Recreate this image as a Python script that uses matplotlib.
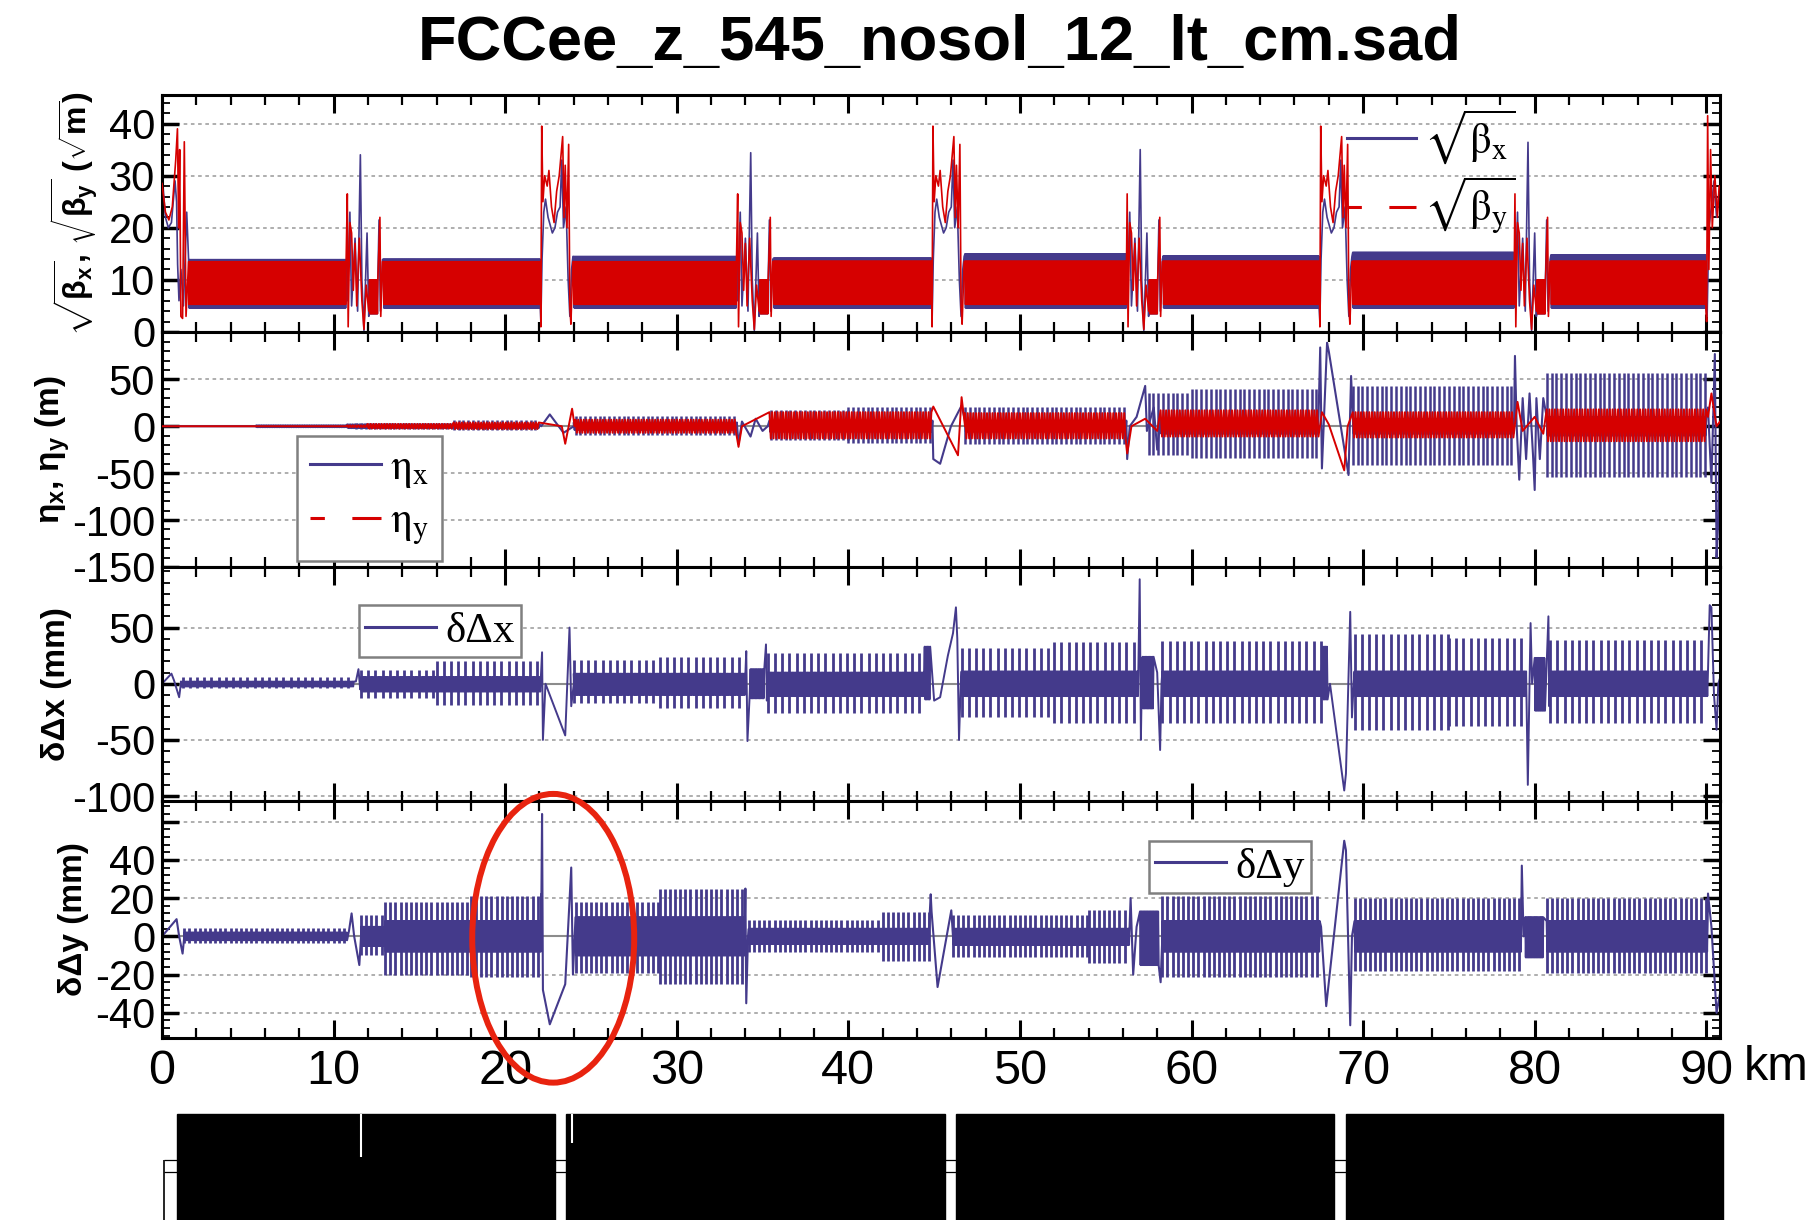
import numpy as np
import matplotlib
matplotlib.use("Agg")
import matplotlib.pyplot as plt
from matplotlib import font_manager
from matplotlib.lines import Line2D
from matplotlib.patches import Ellipse, Rectangle
from matplotlib.font_manager import FontProperties
from matplotlib.ticker import MultipleLocator, FixedLocator, FuncFormatter

# ---------------- data (km along the ring) ----------------
title = "FCCee_z_545_nosol_12_lt_cm.sad"

# panel 1 : sqrt(beta)
arc_x0 = [1.55, 12.9, 24.0, 35.65, 46.8, 58.35, 69.4, 80.95]
arc_x1 = [10.75, 22.05, 33.5, 44.85, 56.2, 67.45, 78.8, 90.0]
bx_arc_hi = [13.9, 14.0, 14.5, 14.2, 15.0, 14.6, 15.3, 14.8]
bx_arc_lo = [4.6, 4.6, 4.6, 4.6, 4.6, 4.6, 4.6, 4.6]
by_arc_hi = [13.5, 13.5, 13.5, 13.6, 13.6, 13.6, 13.6, 13.6]
by_arc_lo = [5.3, 5.3, 5.3, 5.3, 5.3, 5.3, 5.3, 5.3]

ir_a_starts = [10.75, 33.5, 56.2, 78.8]
ir_a_band = (1.35, 1.85, 10.0, 3.5)
bx_ir_a_dx = [0.05, 0.2, 0.3, 0.5, 0.65, 0.81, 0.9, 1.02, 1.2, 1.3, 1.9, 1.98, 2.1]
bx_ir_a_y = [6, 23, 5, 18, 4, 34, 10, 0.3, 19, 3, 21.5, 4, 13.9]
bx_peak_a = [34.0, 34.4, 35.0, 36.4]
by_ir_a_dx = [0.05, 0.1, 0.2, 0.3, 0.4, 0.5, 0.6, 0.75, 0.9, 1.02, 1.15, 1.3, 1.95, 2.0, 2.1]
by_ir_a_y = [26.5, 1, 21, 19, 8, 17, 5, 18, 6, 0.5, 9, 4, 22, 3, 13.5]

ir_b_starts = [22.05, 44.85, 67.45]
bx_ir_b_dx = [0.03, 0.1, 0.2, 0.3, 0.45, 0.7, 0.85, 1.0, 1.15, 1.25, 1.35, 1.5, 1.62, 1.72, 1.82, 1.9]
bx_ir_b_y = [2, 14, 23, 25.5, 22, 19, 20, 23, 24, 33, 20, 24, 10, 3, 12, 14.5]
by_ir_b_dx = [0.0, 0.03, 0.08, 0.15, 0.25, 0.4, 0.5, 0.65, 0.8, 0.95, 1.1, 1.3, 1.38,
              1.45, 1.55, 1.65, 1.72, 1.78, 1.9]
by_ir_b_y = [13.5, 1, 39.5, 25, 30, 28, 31, 24, 21, 27, 30, 37.5, 22, 32, 20, 36, 5, 1.5, 13.5]

bx_end_x = [0.0, 0.2, 0.37, 0.55, 0.76, 0.85, 0.91, 0.99, 1.1, 1.25, 1.44, 1.55,
            90.05, 90.15, 90.3, 90.45, 90.6, 90.75]
bx_end_y = [30.5, 22, 20, 21, 29, 25, 13, 6, 12, 5, 23, 14, 3, 20, 24, 29, 22, 27]
by_end_x = [0.0, 0.2, 0.4, 0.6, 0.8, 0.9, 0.97, 1.03, 1.1, 1.2, 1.3, 1.4, 1.55,
            90.02, 90.08, 90.15, 90.25, 90.35, 90.5, 90.65, 90.75]
by_end_y = [28.5, 23, 21.5, 24, 33, 39, 20, 35, 3, 2.6, 36.5, 3, 13.5,
            2, 41.5, 12, 35, 20, 30, 22, 28]

# panel 2 : dispersion
ex_core = [(0.0, 5.5, 0, 0), (5.5, 10.8, 1, -1), (10.8, 22.0, 2, -2), (24.0, 33.5, 4, -4),
           (35.4, 44.9, 6, -6), (46.8, 56.2, 6, -6), (58.2, 67.4, 8, -8),
           (69.4, 78.8, 8, -8), (80.7, 90.0, 10, -10)]
ex_teeth = [(5.5, 10.8, 1.5, -1.0), (11.3, 17.0, 3.5, -3.0), (17.0, 22.0, 7.0, -4.5),
            (24.1, 33.5, 10.5, -9.0), (35.5, 40.0, 17.0, -15.0), (40.0, 44.9, 21.0, -18.0),
            (46.8, 56.2, 21.0, -18.5), (57.5, 60.0, 35.5, -31.0), (60.0, 67.4, 40.0, -34.0),
            (69.4, 78.8, 43.0, -41.0), (80.7, 90.0, 57.0, -54.0)]
ex_ir_x = [22.1, 22.6, 23.4, 24.0,
           33.6, 33.8, 34.3, 34.6, 35.0, 35.3,
           44.95, 45.35, 45.98, 46.6,
           56.25, 56.4, 56.8, 57.3, 57.4, 57.8, 58.0,
           67.5, 67.6, 67.9, 68.0, 69.15, 69.3,
           78.85, 78.95, 79.1, 79.3, 79.5, 79.7, 79.9, 80.0, 80.1, 80.3, 80.5,
           90.1, 90.3, 90.5, 90.6, 90.7, 90.8]
ex_ir_y = [0, 12.6, -7, 0,
           -19, 5, -11, 8, -5, 0,
           -35, -40, 0, 22,
           -35, 0, 10, 43, -5, 20, -25,
           84, -45, 89, 80, -52, 53.6,
           75, 0, -57, 30, -35, 35, -30, -68, 30, -35, 30,
           20, -60, 77, -140, -100, 10]
ey_bands = [(0.0, 10.8, 0, 0), (10.8, 12.0, 1.0, -1.0), (12.0, 17.0, 2.5, -2.5),
            (17.0, 22.0, 4.0, -3.0), (24.1, 33.5, 7.0, -7.0), (35.4, 44.9, 15.0, -13.0),
            (46.8, 56.2, 14.0, -13.0), (58.2, 67.4, 17.0, -11.0), (69.4, 78.8, 15.0, -12.0),
            (80.7, 90.0, 18.0, -16.0)]
ey_ir_x = [23.3, 23.5, 23.9, 24.05, 33.6, 33.8, 44.95, 46.39, 46.6, 46.8,
           56.25, 56.5, 57.3, 58.0, 67.6, 68.0, 68.9, 69.1, 79.0, 79.3, 80.0, 80.5,
           90.1, 90.3, 90.6, 90.8]
ey_ir_y = [0, -18.7, 18.7, 0, -22, 0, 21, -31, 31, 0,
           -29, 0, 8, -5, 15, 2, -47, 0, 26, -5, 10, -8,
           10, 35, 0, 5]

# panel 3 : delta Delta x
dx_core = [(1.1, 11.2, 2.0, -2.5), (11.6, 22.1, 6.0, -7.0), (24.0, 34.0, 9.0, -10.0),
           (34.3, 35.1, 13.0, -13.0), (35.3, 44.4, 10.0, -11.0), (44.45, 44.8, 33.0, -14.0),
           (46.6, 56.9, 11.0, -11.0), (57.15, 57.8, 24.0, -22.0), (58.3, 67.6, 11.0, -11.0),
           (67.65, 67.95, 33.0, -14.0), (69.5, 79.5, 11.0, -11.0), (80.0, 80.6, 23.0, -24.0),
           (80.9, 90.1, 11.0, -11.0)]
dx_teeth = [(1.2, 11.2, 6.0, -4.0), (11.6, 16.0, 12.0, -13.0), (16.0, 22.1, 20.0, -19.0),
            (24.0, 29.0, 21.0, -17.0), (29.0, 34.0, 24.0, -22.0), (35.3, 44.4, 27.0, -26.0),
            (46.6, 52.0, 32.0, -30.0), (52.0, 56.9, 37.0, -35.0), (58.3, 67.6, 38.0, -35.0),
            (69.5, 75.0, 44.0, -41.0), (75.0, 79.5, 41.0, -38.0), (80.9, 90.1, 39.0, -35.0)]
dx_ir_x = [0.0, 0.55, 0.7, 1.0, 1.1,
           11.3, 11.45, 11.55,
           22.15, 22.2, 22.35, 23.5, 23.75, 23.85, 24.0,
           34.05, 34.12, 34.25, 35.2, 35.25,
           45.0, 45.35, 45.8, 46.1, 46.27, 46.35, 46.45, 46.55,
           56.98, 57.05, 57.1, 58.0, 58.17, 58.25,
           68.07, 68.9, 69.0, 69.25, 69.35, 69.45,
           79.6, 79.7, 79.76, 79.85, 80.8, 80.85,
           90.2, 90.3, 90.45, 90.6, 90.7, 90.8]
dx_ir_y = [0, 9, 3, -12, 0,
           2, 13, -5,
           28, -50, 0, -46, 50, -20, 0,
           29, -51, -10, 35, -15,
           -15, -12, 25, 45, 68, 40, -50, 0,
           93, -50, 0, 10, -59, 0,
           0, -95, -80, 64, -30, 0,
           -90, 0, 54, 0, 60, -20,
           70, 68, -10, -41, 0, 5]

# panel 4 : delta Delta y
dy_core = [(1.3, 10.8, 2.0, -2.0), (11.6, 13.0, 5.0, -5.0), (13.0, 22.1, 8.0, -8.0),
           (24.1, 34.0, 10.0, -10.0), (34.2, 44.7, 4.0, -4.0), (46.1, 56.4, 4.0, -4.5),
           (57.0, 58.1, 13.0, -15.0), (58.3, 67.5, 8.0, -8.0), (69.5, 79.2, 8.0, -8.0),
           (79.45, 80.5, 10.0, -11.0), (80.7, 90.1, 8.0, -8.0)]
dy_teeth = [(1.3, 10.8, 4.5, -3.5), (11.6, 13.0, 11.0, -10.0), (13.0, 18.0, 18.0, -20.0),
            (18.0, 22.1, 21.0, -21.5), (24.1, 29.0, 18.0, -19.0), (29.0, 34.0, 25.0, -25.0),
            (34.2, 42.0, 8.5, -8.0), (42.0, 44.7, 13.0, -13.0), (46.1, 54.0, 11.0, -11.0),
            (54.0, 56.4, 14.0, -14.0), (58.3, 67.5, 21.0, -21.0), (69.5, 79.2, 20.0, -18.0),
            (80.7, 90.1, 20.0, -19.0)]
dy_ir_x = [0.0, 0.85, 1.0, 1.2, 1.3,
           10.9, 11.05, 11.2, 11.5, 11.6,
           22.1, 22.15, 22.2, 22.6, 23.5, 23.85, 23.95, 24.05,
           34.0, 34.05, 34.15,
           44.8, 44.85, 45.2, 46.0, 46.1,
           56.45, 56.6, 56.8, 58.2, 58.3,
           67.55, 67.85, 68.9, 69.0, 69.25, 69.35,
           79.25, 79.35,
           90.1, 90.3, 90.6, 90.8]
dy_ir_y = [0, 9, 0, -9, 0,
           3, 12, 0, -15, 0,
           22, 64, -28, -46, -25, 36, -20, 0,
           25, -35, 0,
           22, 13, -26.5, 13.6, 0,
           20, -20, 5, -24, 0,
           5, -36.5, 50, 45, -46.5, 0,
           37, 0,
           22.4, 5, -40, -30]

# lattice strip
lat_x0 = [0.88, 23.53, 46.26, 68.98]
lat_x1 = [22.93, 45.65, 68.31, 91.0]

BLUE = "#443a8b"
RED = "#d60000"

# ---------------- helpers ----------------
def build(bands, px, py, step):
    xs = [np.asarray(px, float)]
    ys = [np.asarray(py, float)]
    for x0, x1, hi, lo in bands:
        x = np.arange(x0, x1 + 1e-9, step / 2.0)
        y = np.where(np.arange(x.size) % 2 == 0, hi, lo)
        xs.append(x)
        ys.append(y)
    x = np.concatenate(xs)
    y = np.concatenate(ys)
    o = np.argsort(x, kind="stable")
    return x[o], y[o]


def teeth(ax, segs, spacing, color, lw, z):
    for x0, x1, hi, lo in segs:
        xt = np.arange(x0, x1, spacing)
        ax.vlines(xt, lo, hi, color=color, lw=lw, zorder=z)


# expand the straight-section shapes of panel 1
bx_bands = [(a, b, h, l) for a, b, h, l in zip(arc_x0, arc_x1, bx_arc_hi, bx_arc_lo)]
by_bands = [(a, b, h, l) for a, b, h, l in zip(arc_x0, arc_x1, by_arc_hi, by_arc_lo)]
bx_px, bx_py = list(bx_end_x), list(bx_end_y)
by_px, by_py = list(by_end_x), list(by_end_y)
for s, pk in zip(ir_a_starts, bx_peak_a):
    yy = list(bx_ir_a_y)
    yy[5] = pk
    bx_px += [s + d for d in bx_ir_a_dx]
    bx_py += yy
    by_px += [s + d for d in by_ir_a_dx]
    by_py += by_ir_a_y
    band = (s + ir_a_band[0], s + ir_a_band[1], ir_a_band[2], ir_a_band[3])
    bx_bands.append(band)
    by_bands.append(band)
for s in ir_b_starts:
    bx_px += [s + d for d in bx_ir_b_dx]
    bx_py += bx_ir_b_y
    by_px += [s + d for d in by_ir_b_dx]
    by_py += by_ir_b_y

# ---------------- fonts ----------------
names = {f.name for f in font_manager.fontManager.ttflist}
NARROW = "Liberation Sans Narrow" if "Liberation Sans Narrow" in names else "Liberation Sans"
plt.rcParams["font.family"] = [NARROW, "DejaVu Sans"]
plt.rcParams["mathtext.fontset"] = "custom"
plt.rcParams["mathtext.rm"] = "Liberation Sans:bold"
plt.rcParams["mathtext.it"] = "Liberation Sans:bold"
plt.rcParams["mathtext.bf"] = "Liberation Sans:bold"

legfont = FontProperties(family="Liberation Serif", size=31, math_fontfamily="stix")

# ---------------- figure ----------------
fig = plt.figure(figsize=(18.14, 12.2), dpi=100)
W, H = 1814.0, 1220.0
left, right = 162.0, 1720.0
edges = [94.9, 332.0, 566.9, 800.6, 1037.7]
axs = []
for i in range(4):
    ax = fig.add_axes([left / W, 1 - edges[i + 1] / H, (right - left) / W,
                       (edges[i + 1] - edges[i]) / H])
    axs.append(ax)

ylims = [(0, 45.5), (-150, 100.5), (-104, 104), (-53, 71)]
yticks = [[0, 10, 20, 30, 40], [-150, -100, -50, 0, 50], [-100, -50, 0, 50],
          [-40, -20, 0, 20, 40, 60]]
yminor = [2, 10, 10, 4]
grids = [[10, 20, 30, 40], [50, -50, -100], [50, -50, -100], [60, 40, 20, -20, -40]]
ylabels = [r"$\sqrt{\beta_x}$, $\sqrt{\beta_y}$ ($\sqrt{\mathrm{m}}$)",
           r"$\eta_x$, $\eta_y$ (m)", "δΔx (mm)", "δΔy (mm)"]
label_x = [-0.040, -0.058, -0.058, -0.047]
label_size = [23, 24, 24, 24]

for i, ax in enumerate(axs):
    ax.set_xlim(0, 90.8)
    ax.set_ylim(*ylims[i])
    ax.xaxis.set_major_locator(MultipleLocator(10))
    ax.xaxis.set_minor_locator(MultipleLocator(2))
    ax.yaxis.set_major_locator(FixedLocator(yticks[i]))
    ax.yaxis.set_minor_locator(MultipleLocator(yminor[i]))
    if i == 3:
        ax.yaxis.set_major_formatter(FuncFormatter(lambda v, p: "" if v > 50 else "%d" % v))
    else:
        ax.yaxis.set_major_formatter(FuncFormatter(lambda v, p: "%d" % v))
    ax.tick_params(axis="x", which="both", direction="in", top=True, bottom=True,
                   labelbottom=(i == 3), labelsize=35, pad=8)
    ax.tick_params(axis="x", which="major", length=13, width=2.2)
    ax.tick_params(axis="x", which="minor", length=7, width=1.6)
    ax.tick_params(axis="y", which="both", direction="in", left=True, right=True,
                   labelsize=30, pad=5)
    ax.tick_params(axis="y", which="major", length=12, width=2.5)
    ax.tick_params(axis="y", which="minor", length=6, width=1.3)
    for sp in ax.spines.values():
        sp.set_linewidth(2.2)
    for g in grids[i]:
        ax.axhline(g, color="#a8a8a8", lw=1.3, ls=(0, (2, 2)), zorder=0.4)
    if i > 0:
        ax.axhline(0, color="#8c8c8c", lw=1.5, zorder=0.5)
    ax.set_ylabel(ylabels[i], fontsize=label_size[i], fontweight="bold",
                  family="Liberation Sans", math_fontfamily="custom")
    ax.yaxis.set_label_coords(label_x[i], 0.5)

# panel 1
ax = axs[0]
x, y = build(bx_bands, bx_px, bx_py, 0.06)
ax.plot(x, y, color=BLUE, lw=1.2, zorder=2)
x, y = build(by_bands, by_px, by_py, 0.06)
ax.plot(x, y, color=RED, lw=1.2, zorder=3)
h1 = [Line2D([], [], color=BLUE, lw=2.2),
      Line2D([], [], color=RED, lw=2.2, dashes=(4.7, 9, 10.8, 2))]
leg = ax.legend(h1, [r"$\sqrt{\mathrm{\beta}_\mathrm{x}}$", r"$\sqrt{\mathrm{\beta}_\mathrm{y}}$"],
                prop=legfont, loc="upper left", bbox_to_anchor=(0.755, 0.983),
                borderaxespad=0, fancybox=False, handlelength=1.6, handletextpad=0.2,
                labelspacing=0.2, borderpad=0.2, framealpha=0)
leg.get_frame().set_edgecolor("#808080")
leg.get_frame().set_linewidth(1.8)

# panel 2
ax = axs[1]
x, y = build(ex_core, ex_ir_x, ex_ir_y, 0.1)
ax.plot(x, y, color=BLUE, lw=1.5, zorder=2)
teeth(ax, ex_teeth, 0.28, BLUE, 1.8, 2)
x, y = build(ey_bands, ey_ir_x, ey_ir_y, 0.16)
ax.plot(x, y, color=RED, lw=1.4, zorder=3)
h2 = [Line2D([], [], color=BLUE, lw=2.2),
      Line2D([], [], color=RED, lw=2.2, dashes=(4.7, 9, 10.8, 2))]
leg = ax.legend(h2, [r"$\mathrm{\eta}_\mathrm{x}$", r"$\mathrm{\eta}_\mathrm{y}$"],
                prop=legfont, loc="upper left", bbox_to_anchor=(0.0867, 0.557),
                borderaxespad=0, fancybox=False, handlelength=1.65, handletextpad=0.2,
                labelspacing=0.3, borderpad=0.3, framealpha=1)
leg.get_frame().set_edgecolor("#808080")
leg.get_frame().set_linewidth(1.8)

# panel 3
ax = axs[2]
x, y = build(dx_core, dx_ir_x, dx_ir_y, 0.08)
ax.plot(x, y, color=BLUE, lw=1.4, zorder=2)
teeth(ax, dx_teeth, 0.42, BLUE, 2.0, 2)
leg = ax.legend([Line2D([], [], color=BLUE, lw=2.2)], ["δΔx"], prop=legfont,
                loc="upper left", bbox_to_anchor=(0.1264, 0.837), borderaxespad=0,
                fancybox=False, handlelength=1.65, handletextpad=0.2, borderpad=0.15,
                framealpha=1)
leg.get_frame().set_edgecolor("#808080")
leg.get_frame().set_linewidth(1.8)

# panel 4
ax = axs[3]
x, y = build(dy_core, dy_ir_x, dy_ir_y, 0.07)
ax.plot(x, y, color=BLUE, lw=1.5, zorder=2)
teeth(ax, dy_teeth, 0.3, BLUE, 2.0, 2)
leg = ax.legend([Line2D([], [], color=BLUE, lw=2.2)], ["δΔy"], prop=legfont,
                loc="upper left", bbox_to_anchor=(0.6335, 0.83), borderaxespad=0,
                fancybox=False, handlelength=1.65, handletextpad=0.2, borderpad=0.15,
                framealpha=1)
leg.get_frame().set_edgecolor("#808080")
leg.get_frame().set_linewidth(1.8)
ax.add_patch(Ellipse((22.8, -1), 9.44, 151, fill=False, edgecolor="#e8230f", lw=4.3,
                     clip_on=False, zorder=10))

fig.text(1776 / W, 1 - 1067 / H, "km", fontsize=35, ha="center", va="center")
fig.text(940 / W, 1 - 44 / H, title, fontsize=45.5, fontweight="bold",
         family="Liberation Sans", ha="center", va="center")

# lattice strip under the plots
lat = fig.add_axes([left / W, (H - 1244) / H, (right - left) / W, 130 / H])
lat.set_xlim(0, 90.8)
lat.set_ylim(-1.5, 1.0)
lat.axis("off")
lat.hlines([0.12, -0.12], 0.1, 90.8, color="black", lw=0.9)
lat.vlines([0.12], -1.5, 0.12, color="black", lw=1.2)
for a, b in zip(lat_x0, lat_x1):
    lat.add_patch(Rectangle((a, -1.5), b - a, 2.5, color="black", clip_on=False))
lat.vlines([11.6], 0.17, 1.0, color="white", lw=1.5)
lat.vlines([23.87], 0.45, 1.0, color="white", lw=1.5)

fig.savefig("out.png", dpi=100)
